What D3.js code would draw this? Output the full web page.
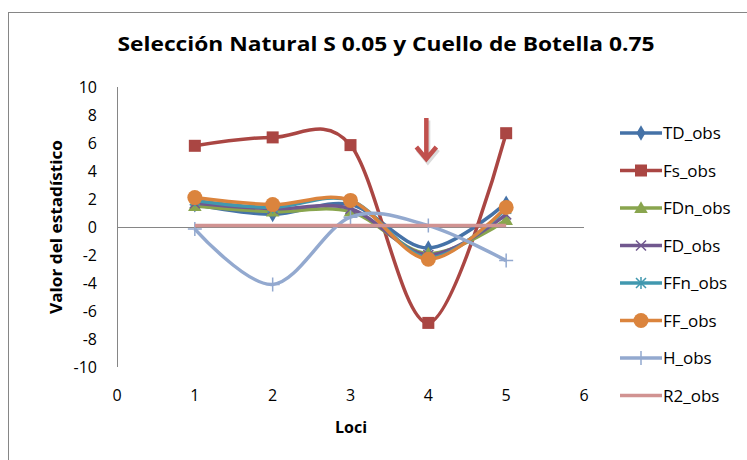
<!DOCTYPE html>
<html>
<head>
<meta charset="utf-8">
<script src="https://cdn.jsdelivr.net/npm/d3@7"></script>
<style>
  body { margin: 0; background: #fff; }
  text { font-family: "Open Sans", "Liberation Sans", sans-serif; fill: #000; }
</style>
</head>
<body>
<div id="chart"></div>
<script>
// data
var loci = [1, 2, 3, 4, 5];
var seriesNames = ["TD_obs", "Fs_obs", "FDn_obs", "FD_obs", "FFn_obs", "FF_obs", "H_obs", "R2_obs"];
var TD_obs  = [1.6, 0.9, 1.6, -1.5, 1.7];
var Fs_obs  = [5.8, 6.4, 5.85, -6.85, 6.7];
var FDn_obs = [1.5, 1.1, 1.1, -1.9, 0.5];
var FD_obs  = [1.7, 1.3, 1.3, -2.0, 0.9];
var FFn_obs = [1.9, 1.4, 1.9, -2.2, 1.3];
var FF_obs  = [2.1, 1.6, 1.9, -2.3, 1.4];
var H_obs   = [-0.15, -4.1, 0.7, 0.1, -2.4];
var R2_obs  = [0.1, 0.1, 0.1, 0.1, 0.1];
var xTicks = [0, 1, 2, 3, 4, 5, 6];
var yTicks = [-10, -8, -6, -4, -2, 0, 2, 4, 6, 8, 10];

var colors = ["#4572A7", "#AA4643", "#89A54E", "#71588F", "#4198AF", "#DB843D", "#93A9CF", "#D19392"];
var markers = ["diamond", "square", "triangle", "x", "star", "circle", "plus", "none"];
var values = [TD_obs, Fs_obs, FDn_obs, FD_obs, FFn_obs, FF_obs, H_obs, R2_obs];

var W = 747, H = 460;
var svg = d3.select("#chart").append("svg").attr("width", W).attr("height", H);

// outer frame
svg.append("rect").attr("x", 8.5).attr("y", 12.5).attr("width", 800).attr("height", 500)
    .attr("fill", "none").attr("stroke", "#868686").attr("stroke-width", 1);

var x = d3.scaleLinear().domain([0, 6]).range([117, 584]);
var y = d3.scaleLinear().domain([-10, 10]).range([367, 87]);

svg.append("text").attr("x", 386).attr("y", 51).attr("text-anchor", "middle")
    .style("font-size", "19px").style("font-weight", "bold")
    .attr("textLength", 537).attr("lengthAdjust", "spacingAndGlyphs")
    .text("Selección Natural S 0.05 y Cuello de Botella 0.75");

// y axis
svg.append("line").attr("x1", x(0) + 0.5).attr("x2", x(0) + 0.5).attr("y1", y(10)).attr("y2", y(-10))
    .attr("stroke", "#868686");
svg.selectAll(".ytick").data(yTicks).enter().append("text")
    .attr("x", 97).attr("y", function(d) { return y(d) + 5.5; })
    .attr("text-anchor", "end").style("font-size", "16px")
    .text(function(d) { return d; });

// x axis at zero
svg.append("line").attr("x1", x(0)).attr("x2", x(6)).attr("y1", y(0) + 0.5).attr("y2", y(0) + 0.5)
    .attr("stroke", "#868686");
svg.selectAll(".xtick").data(xTicks).enter().append("text")
    .attr("x", function(d) { return x(d); }).attr("y", 401)
    .attr("text-anchor", "middle").style("font-size", "16px")
    .text(function(d) { return d; });

svg.append("text").attr("x", 351).attr("y", 433).attr("text-anchor", "middle")
    .style("font-size", "16px").style("font-weight", "bold").text("Loci");
svg.append("text").attr("transform", "translate(62,227) rotate(-90)").attr("text-anchor", "middle")
    .style("font-size", "16px").style("font-weight", "bold")
    .attr("textLength", 174).attr("lengthAdjust", "spacingAndGlyphs")
    .text("Valor del estadístico");

function drawMarker(g, type, cx, cy, col) {
    if (type == "diamond") {
        g.append("path").attr("d", d3.symbol(d3.symbolDiamond, 70)()).attr("transform", "translate(" + cx + "," + cy + ")").attr("fill", col);
    } else if (type == "square") {
        g.append("rect").attr("x", cx - 6).attr("y", cy - 6).attr("width", 12).attr("height", 12).attr("fill", col);
    } else if (type == "triangle") {
        g.append("path").attr("d", d3.symbol(d3.symbolTriangle, 80)()).attr("transform", "translate(" + cx + "," + (cy + 1) + ")").attr("fill", col);
    } else if (type == "x") {
        g.append("path").attr("d", "M-5,-5L5,5M-5,5L5,-5").attr("transform", "translate(" + cx + "," + cy + ")")
            .attr("stroke", col).attr("stroke-width", 1.5).attr("fill", "none");
    } else if (type == "star") {
        g.append("path").attr("d", "M-5,-5L5,5M-5,5L5,-5M0,-6L0,6").attr("transform", "translate(" + cx + "," + cy + ")")
            .attr("stroke", col).attr("stroke-width", 1.5).attr("fill", "none");
    } else if (type == "circle") {
        g.append("circle").attr("cx", cx).attr("cy", cy).attr("r", 7.5).attr("fill", col);
    } else if (type == "plus") {
        g.append("path").attr("d", "M-7,0L7,0M0,-7L0,7").attr("transform", "translate(" + cx + "," + cy + ")")
            .attr("stroke", col).attr("stroke-width", 1.5).attr("fill", "none");
    }
}

var line = d3.line()
    .x(function(d, i) { return x(loci[i]); })
    .y(function(d) { return y(d); })
    .curve(d3.curveCardinal.tension(0));

var plot = svg.append("g");
values.forEach(function(v, k) {
    var g = plot.append("g");
    g.append("path").attr("d", line(v)).attr("fill", "none")
        .attr("stroke", colors[k]).attr("stroke-width", 3.5);
    v.forEach(function(val, i) {
        drawMarker(g, markers[k], x(loci[i]), y(val), colors[k]);
    });
});

// annotation arrow above locus 4
var arrowPath = "M0,118L0,158M-10,147L0,159L10,147";
var arrow = svg.append("g").attr("transform", "translate(" + (x(4) - 2) + ",0)");
arrow.append("path").attr("d", arrowPath).attr("transform", "translate(1.5,2.5)")
    .attr("fill", "none").attr("stroke", "#999").attr("stroke-opacity", 0.35).attr("stroke-width", 5);
arrow.append("path").attr("d", arrowPath)
    .attr("fill", "none").attr("stroke", "#C0504D").attr("stroke-width", 4.5)
    .attr("stroke-linejoin", "miter");

// legend
var legend = svg.append("g");
seriesNames.forEach(function(name, k) {
    var ly = 133 + k * 37.5;
    legend.append("line").attr("x1", 620).attr("x2", 662).attr("y1", ly).attr("y2", ly)
        .attr("stroke", colors[k]).attr("stroke-width", 3.5);
    drawMarker(legend, markers[k], 641, ly, colors[k]);
    legend.append("text").attr("x", 663).attr("y", ly + 6).style("font-size", "17px").text(name);
});
</script>
</body>
</html>
